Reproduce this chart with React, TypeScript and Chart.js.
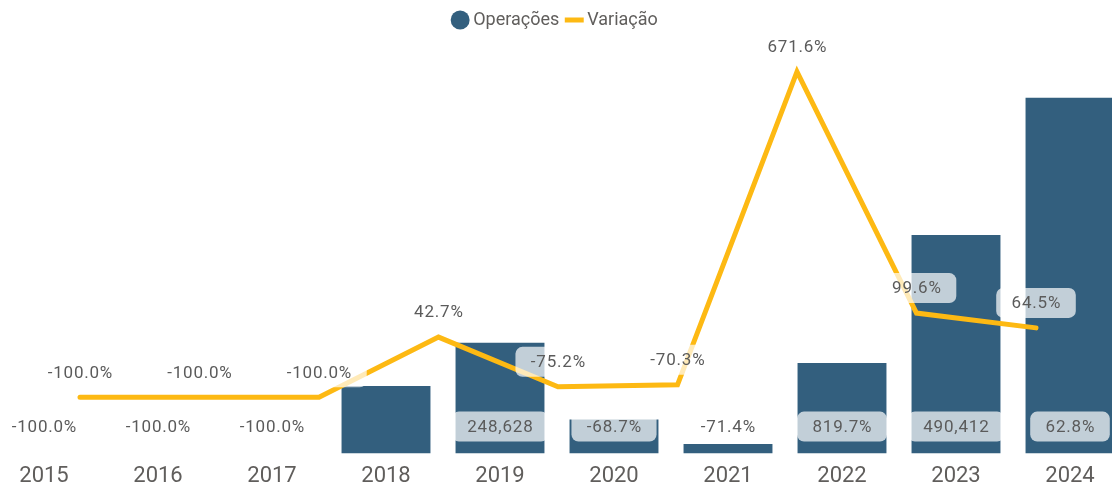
import React, { useEffect, useRef } from 'react';
import { Chart, registerables } from 'chart.js';

Chart.register(...registerables);

// ---- data ----
const categories = ['2015', '2016', '2017', '2018', '2019', '2020', '2021', '2022', '2023', '2024'];
const operacoes = [0, 0, 0, 151700, 248628, 76300, 21800, 203500, 490412, 798391];
const variacao = [-100, -100, -100, 42.7, -75.2, -70.3, 671.6, 99.6, 64.5];
const variacaoIndex = [0, 1, 2, 3, 4, 5, 6, 7, 8];
const barLabels = ['-100.0%', '-100.0%', '-100.0%', '', '248,628', '-68.7%', '-71.4%', '819.7%', '490,412', '62.8%'];

const BAR_COLOR = '#335F7E';
const LINE_COLOR = '#FDB913';
const TEXT_COLOR = '#5b5b5b';
const AXIS_COLOR = '#605E5C';
const FONT = 'Roboto, "Noto Sans", sans-serif';

const fmtPct = (v: number) => `${v.toFixed(1)}%`;

const labelPlugin = {
  id: 'valueLabels',
  afterDatasetsDraw(chart: any) {
    const ctx = chart.ctx as CanvasRenderingContext2D;
    ctx.save();
    ctx.font = `17px ${FONT}`;
    (ctx as any).letterSpacing = '0.8px';
    ctx.textAlign = 'center';
    ctx.textBaseline = 'middle';
    const drawLabel = (text: string, x: number, y: number) => {
      const w = ctx.measureText(text).width + 30;
      ctx.fillStyle = 'rgba(255,255,255,0.7)';
      ctx.beginPath();
      (ctx as any).roundRect(x - w / 2, y - 15, w, 30, 7);
      ctx.fill();
      ctx.fillStyle = TEXT_COLOR;
      ctx.fillText(text, x + 0.4, y + 1);
    };
    const bottom = chart.scales.y.bottom;
    const barMeta = chart.getDatasetMeta(0);
    barMeta.data.forEach((el: any, i: number) => {
      if (barLabels[i]) drawLabel(barLabels[i], el.x, bottom - 27);
    });
    const lineMeta = chart.getDatasetMeta(1);
    lineMeta.data.forEach((pt: any, i: number) => {
      drawLabel(fmtPct(variacao[i]), pt.x, pt.y - 25);
    });
    ctx.restore();
  },
};

export default function App() {
  const canvasRef = useRef<HTMLCanvasElement | null>(null);

  useEffect(() => {
    if (!canvasRef.current) return;
    const chart = new Chart(canvasRef.current, {
      type: 'bar',
      data: {
        labels: categories,
        datasets: [
          {
            type: 'bar',
            label: 'Operações',
            data: operacoes,
            backgroundColor: BAR_COLOR,
            borderWidth: 0,
            grouped: false,
            categoryPercentage: 1,
            barPercentage: 0.78,
            pointStyle: 'circle',
            order: 2,
            xAxisID: 'x',
            yAxisID: 'y',
          } as any,
          {
            type: 'line',
            label: 'Variação',
            data: variacao.map((v, i) => ({ x: variacaoIndex[i], y: v })),
            borderColor: LINE_COLOR,
            backgroundColor: LINE_COLOR,
            borderWidth: 5,
            borderCapStyle: 'round',
            borderJoinStyle: 'miter',
            tension: 0,
            pointRadius: 0,
            pointHoverRadius: 0,
            pointStyle: 'line',
            order: 1,
            xAxisID: 'x2',
            yAxisID: 'y2',
          } as any,
        ],
      },
      options: {
        responsive: false,
        animation: false,
        layout: { padding: 0, autoPadding: false },
        plugins: {
          tooltip: { enabled: false },
          legend: {
            display: true,
            position: 'top',
            align: 'center',
            labels: {
              usePointStyle: true,
              boxWidth: 8,
              boxHeight: 13.4,
              padding: 11,
              color: AXIS_COLOR,
              font: { size: 18, family: FONT },
              sort: (a: any, b: any) => a.datasetIndex - b.datasetIndex,
            },
          },
        },
        scales: {
          x: {
            type: 'category',
            offset: true,
            grid: { display: false, drawTicks: false },
            border: { display: false },
            ticks: {
              color: AXIS_COLOR,
              font: { size: 22, family: FONT },
              padding: 10,
              autoSkip: false,
              maxRotation: 0,
            },
          },
          x2: {
            type: 'linear',
            display: false,
            offset: false,
            grid: { offset: false },
            min: -0.7782,
            max: 8.7615,
          },
          y: {
            display: false,
            min: 0,
            max: 930400,
          },
          y2: {
            display: false,
            beginAtZero: false,
            min: -233.4,
            max: 749.1,
          },
        },
      } as any,
      plugins: [labelPlugin],
    });
    return () => chart.destroy();
  }, []);

  return (
    <div
      style={{
        position: 'absolute',
        left: 0,
        top: 0,
        width: 1112,
        height: 489,
        overflow: 'hidden',
        background: '#ffffff',
      }}
    >
      <canvas
        ref={canvasRef}
        width={1140}
        height={500}
        style={{ position: 'absolute', left: -13, top: 0, width: 1140, height: 500 }}
      />
    </div>
  );
}
